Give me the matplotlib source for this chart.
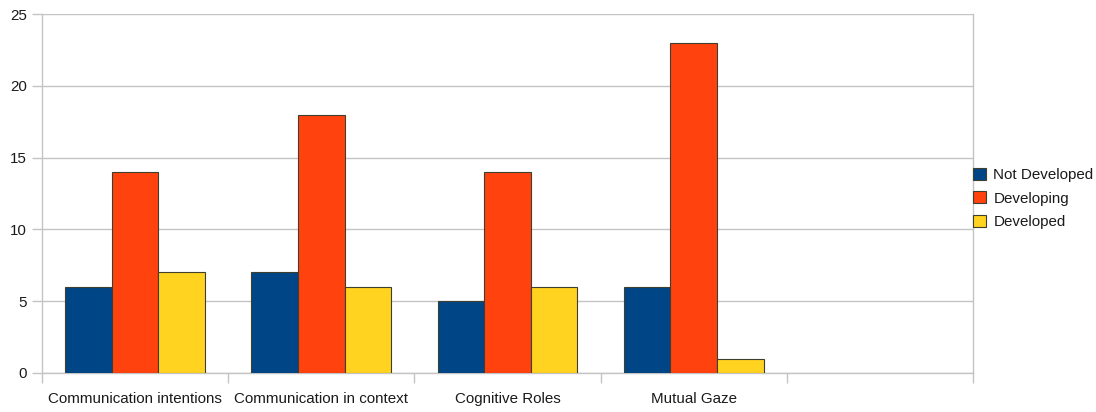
import matplotlib
matplotlib.use("Agg")
import matplotlib.pyplot as plt
import numpy as np

categories = ["Communication intentions", "Communication in context",
              "Cognitive Roles", "Mutual Gaze", ""]
series_names = ["Not Developed", "Developing", "Developed"]
not_developed = [6, 7, 5, 6, 0]
developing = [14, 18, 14, 23, 0]
developed = [7, 6, 6, 1, 0]
y_ticks = [0, 5, 10, 15, 20, 25]

colors = ["#004586", "#ff420e", "#ffd320"]
grid_color = "#c4c4c4"

plt.rcParams["font.family"] = ["Liberation Sans", "DejaVu Sans"]

fig = plt.figure(figsize=(10.96, 4.12), dpi=100)
ax = fig.add_axes([42 / 1096, 39 / 412, 931 / 1096, 359 / 412])

n = len(categories)
centers = np.arange(n) + 0.5
bar_w = 0.25
values = [not_developed, developing, developed]
mask = np.array([bool(cat) for cat in categories])
for k, (vals, name, c) in enumerate(zip(values, series_names, colors)):
    xs = centers + (k - 1) * bar_w
    ax.bar(xs[mask], np.array(vals)[mask], width=bar_w, color=c,
           edgecolor="#3f3f30", linewidth=0.8, label=name, zorder=3)

ax.set_xlim(0, n)
ax.set_ylim(0, 25)
ax.set_yticks(y_ticks)
ax.yaxis.grid(True, color=grid_color, linewidth=1.0, zorder=0)
ax.set_xticks(np.arange(n + 1))
ax.set_xticklabels([])
ax.set_xticks(centers, minor=True)
ax.set_xticklabels(categories, minor=True)
ax.tick_params(axis="x", which="major", length=7, color=grid_color, width=1)
ax.tick_params(axis="x", which="minor", length=0, pad=14, labelsize=10.9,
               labelcolor="#1a1a1a")
ax.tick_params(axis="y", length=7, color=grid_color, width=1, labelsize=10.9,
               labelcolor="#1a1a1a", pad=4)
for side in ["left", "right", "bottom"]:
    ax.spines[side].set_color(grid_color)
    ax.spines[side].set_linewidth(1.0)
ax.spines["top"].set_visible(False)

leg = ax.legend(loc="center left", bbox_to_anchor=(1.0, 0.486), frameon=False,
                fontsize=10.9, handlelength=0.85, handleheight=0.85,
                handletextpad=0.5, labelspacing=0.62, borderaxespad=0.0,
                borderpad=0.0)
for t in leg.get_texts():
    t.set_color("#1a1a1a")

fig.savefig("out.png", dpi=100)
